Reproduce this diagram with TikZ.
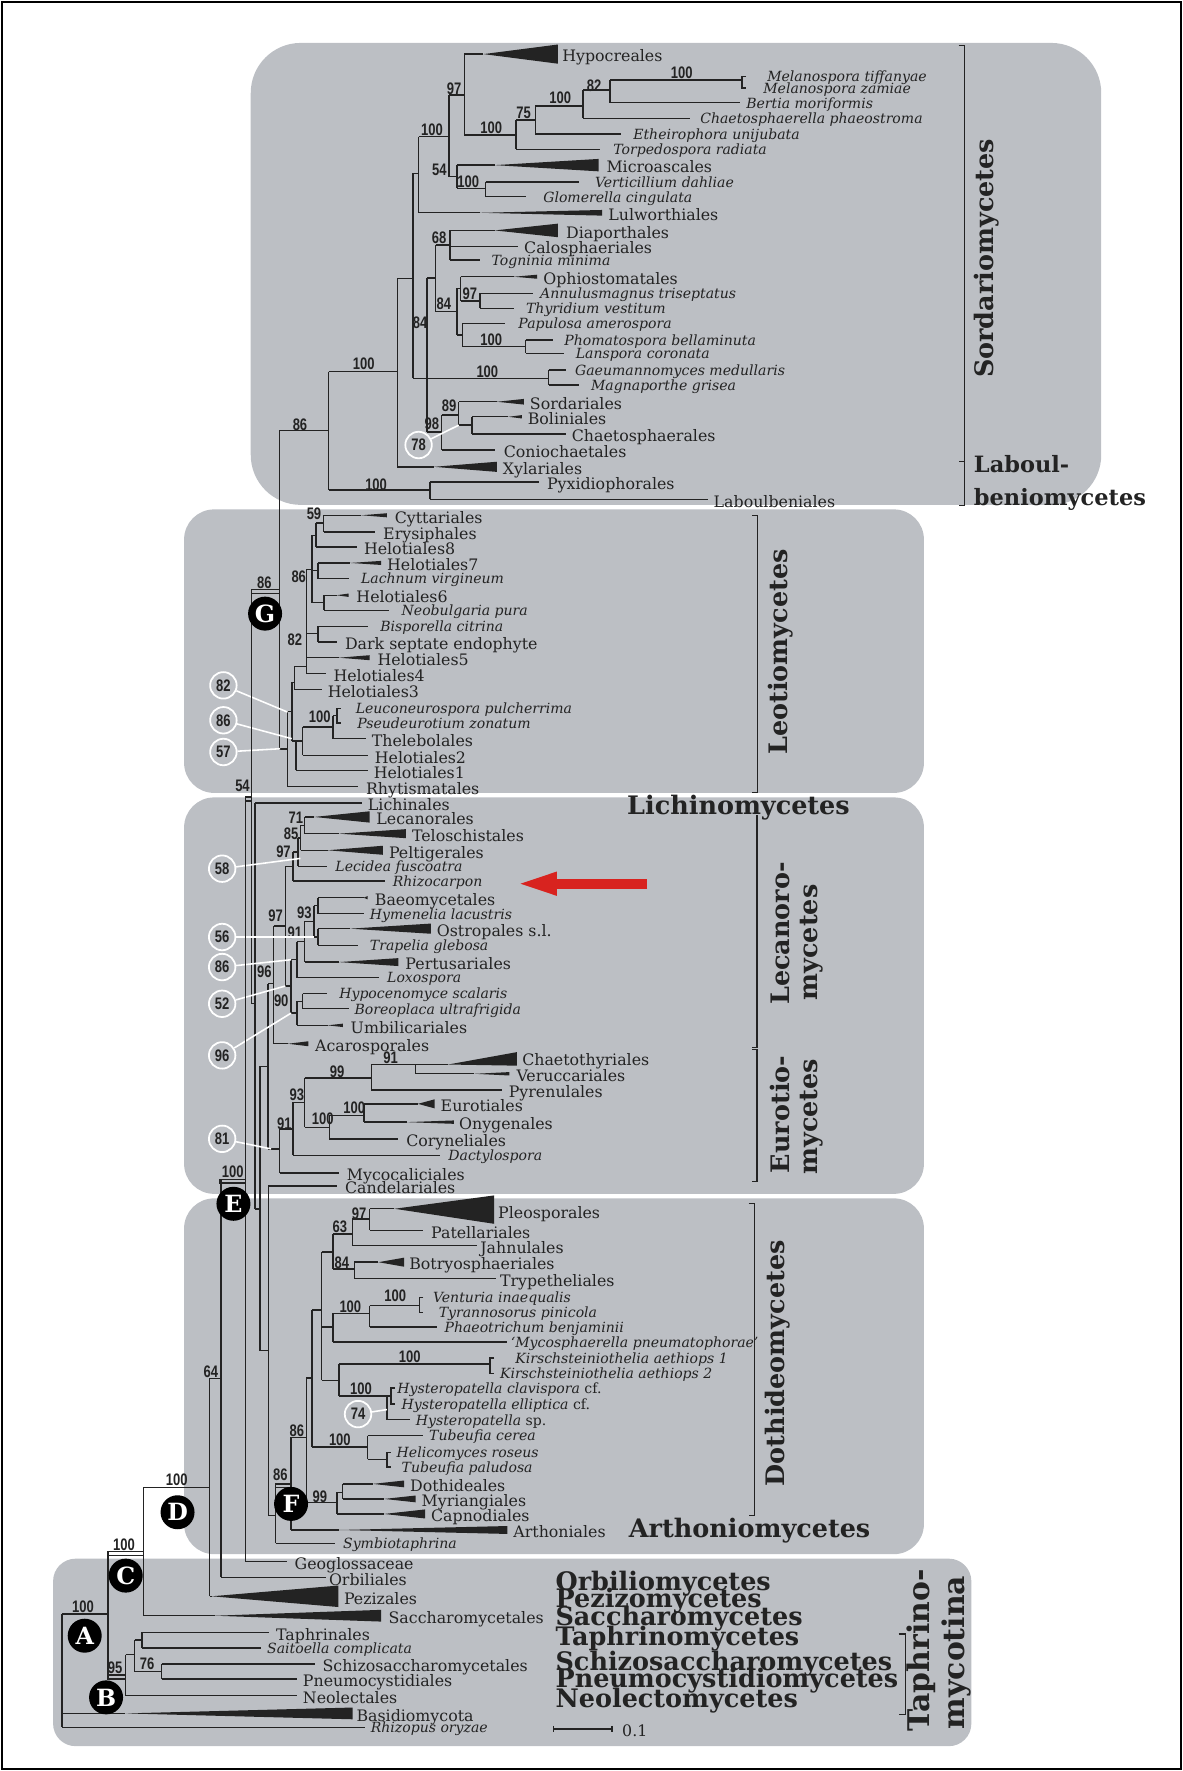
\documentclass[tikz,border=0pt]{standalone}
\usepackage{fontspec}
\setmainfont{DejaVu Serif}
\newfontfamily\numfont[FakeStretch=0.78]{Liberation Sans}
\usepackage{tikz}
\usetikzlibrary{arrows.meta}
\definecolor{panel}{HTML}{BCBFC4}
\definecolor{ink}{HTML}{232323}
\definecolor{alert}{HTML}{D8231F}
\tikzset{
  br/.style={draw=ink,line width=0.8pt},
  tri/.style={fill=ink},
  rlab/.style={anchor=base west,inner sep=0pt,yshift=-4.4pt,text=ink,
    font=\fontsize{9}{9}\selectfont},
  ilab/.style={anchor=base west,inner sep=0pt,yshift=-3pt,text=ink,
    font=\fontsize{8}{8}\selectfont\itshape},
  bsv/.style={inner sep=0pt,text=ink,font=\numfont\bfseries\fontsize{9.5}{9.5}\selectfont},
  ncirc/.style={circle,draw=white,line width=1pt,minimum size=0.53cm,inner sep=0pt,
    text=ink,font=\numfont\bfseries\fontsize{9.5}{9.5}\selectfont},
  wline/.style={draw=white,line width=0.9pt},
  lcirc/.style={circle,fill=black,text=white,minimum size=0.68cm,inner sep=0pt,
    font=\bfseries\fontsize{13.5}{13.5}\selectfont},
  grp/.style={inner sep=0pt,text=ink,font=\bfseries\fontsize{14.5}{14.5}\selectfont},
  grps/.style={grp,font=\bfseries\fontsize{12.8}{12.8}\selectfont},
  grpl/.style={grp,font=\bfseries\fontsize{17}{17}\selectfont},
  gbr/.style={draw=ink,line width=0.6pt},
  panelbox/.style={fill=panel},
  redarrow/.style={draw=alert,line width=5.8pt,-{Triangle[length=23.8pt 0,width=11.6pt 0]}}
}
% node: x, y-top, y-bottom, parent x, joining y
\newcommand\nod[5]{\draw[br] (#4,#5) -- (#1,#5) (#1,#2) -- (#1,#3);}
% leaf: x1, x2, y, label x, style, text
\newcommand\leaf[6]{\draw[br] (#1,#3) -- (#2,#3); \node[#5] at (#4,#3) {#6};}
% collapsed clade: x1, apex x, base x, y, half height, label x, text
\newcommand\tleaf[7]{\draw[br] (#1,#4) -- (#2,#4);
  \fill[tri] (#2,#4) -- (#3,#4-#5) -- (#3,#4+#5) -- cycle;
  \node[rlab] at (#6,#4) {#7};}
\newcommand\supp[3]{\node[bsv] at (#1,#2) {#3};}
\newcommand\pair[3]{\draw[br] (#1+3.5,#2) -- (#1,#2) -- (#1,#3) -- (#1+3.5,#3);}

\begin{document}
\begin{tikzpicture}[x=0.0226cm,y=-0.0226cm]
\useasboundingbox (0,0) rectangle (1047,1568);
\draw[line width=1.2pt] (1.5,1.5) rectangle (1045.5,1566.5);

\fill[panelbox,rounded corners=1.0cm] (222,38) rectangle (975,447);
\fill[panelbox,rounded corners=0.6cm] (163,451) rectangle (818,702);
\fill[panelbox,rounded corners=0.6cm] (163,706) rectangle (818,1057);
\fill[panelbox,rounded corners=0.6cm] (163,1061) rectangle (818,1376);
\fill[panelbox,rounded corners=0.45cm] (47,1380) rectangle (860,1546);

% Sordariomycetes and Laboulbeniomycetes
\nod{411.2}{47.9}{119.6}{397.7}{84.2}
\tleaf{411.2}{428}{494}{47.9}{8.5}{497.6}{Hypocreales}
\nod{457}{106.3}{132.3}{411.2}{119.6}
\nod{474}{94}{118.7}{457}{106.3}
\nod{516.3}{79.7}{104.8}{474}{94}
\nod{540}{71}{91}{516.3}{79.7}
\draw[br] (540,71) -- (657,71);
\pair{657}{67.5}{78}
\node[ilab] at (679,67.5) {Melanospora tiffanyae};
\node[ilab] at (675.5,78) {Melanospora zamiae};
\leaf{540}{655}{91}{660.4}{ilab}{Bertia moriformis}
\leaf{516.3}{611}{104.8}{619.7}{ilab}{Chaetosphaerella phaeostroma}
\leaf{474}{550}{118.7}{560.4}{ilab}{Etheirophora unijubata}
\leaf{457}{531.6}{132.3}{542.8}{ilab}{Torpedospora radiata}
\nod{397.7}{84.2}{156.5}{370.6}{121.1}
\nod{404.5}{146.2}{166.8}{397.7}{156.5}
\tleaf{404.5}{438}{530}{146.2}{5.5}{536.7}{Microascales}
\nod{429.9}{161}{174.2}{404.5}{166.8}
\leaf{429.9}{513}{161}{526.5}{ilab}{Verticillium dahliae}
\leaf{429.9}{465.5}{174.2}{480.7}{ilab}{Glomerella cingulata}
\nod{370.6}{121.1}{188.4}{365.5}{153.6}
\tleaf{370.6}{425}{533}{188.4}{2.5}{538.4}{Lulworthiales}
\nod{365.5}{153.6}{335}{351.9}{246.5}
\nod{378}{246}{382.3}{365.5}{335}
\nod{385.8}{217}{276}{378}{246}
\nod{398.3}{204}{230.3}{385.8}{217}
\tleaf{398.3}{438}{494}{204}{6}{501}{Diaporthales}
\leaf{398.3}{458.7}{218}{463.8}{rlab}{Calosphaeriales}
\leaf{398.3}{424.8}{230.3}{435}{ilab}{Togninia minima}
\nod{404.5}{255.3}{296.7}{385.8}{276}
\nod{407.8}{245}{266.4}{404.5}{255.3}
\tleaf{407.8}{455}{475.6}{245}{1.8}{480.7}{Ophiostomatales}
\nod{424.8}{259.8}{273}{407.8}{266.4}
\leaf{424.8}{472.2}{259.8}{478}{ilab}{Annulusmagnus triseptatus}
\leaf{424.8}{455.3}{273}{465.5}{ilab}{Thyridium vestitum}
\nod{409.5}{286.3}{307}{404.5}{296.7}
\leaf{409.5}{446.8}{286.3}{458.7}{ilab}{Papulosa amerospora}
\nod{465.5}{301}{312.9}{409.5}{307}
\leaf{465.5}{489.2}{301}{499.4}{ilab}{Phomatospora bellaminuta}
\leaf{465.5}{499.4}{312.9}{509.5}{ilab}{Lanspora coronata}
\nod{485.8}{327.7}{341}{378}{335}
\leaf{485.8}{501}{327.7}{508.9}{ilab}{Gaeumannomyces medullaris}
\leaf{485.8}{513}{341}{523}{ilab}{Magnaporthe grisea}
\nod{390.9}{367.5}{398.5}{378}{382.3}
\nod{406.2}{355.7}{376.4}{390.9}{367.5}
\tleaf{406.2}{440}{463.8}{355.7}{2.5}{468.9}{Sordariales}
\nod{418}{369}{384.4}{406.2}{376.4}
\tleaf{418}{450}{462}{369}{1.5}{467}{Boliniales}
\leaf{418}{501}{384.4}{506}{rlab}{Chaetosphaerales}
\leaf{390.9}{438.4}{398.5}{445.8}{rlab}{Coniochaetales}
\nod{351.9}{246.5}{413.3}{290.9}{329}
\tleaf{351.9}{384}{440}{413.3}{4.5}{445}{Xylariales}
\nod{290.9}{329}{434}{247.4}{380.9}
\nod{380.7}{426.6}{442.2}{290.9}{434}
\leaf{380.7}{477.3}{426.6}{484}{rlab}{Pyxidiophorales}
\leaf{380.7}{626.5}{442.2}{631.6}{rlab}{Laboulbeniales}
\supp{603.5}{64}{100} \supp{526}{75.5}{82} \supp{496}{86.5}{100}
\supp{463.5}{99.5}{75} \supp{402}{79}{97} \supp{435}{113}{100}
\supp{382.5}{115}{100} \supp{389}{150}{54} \supp{414.6}{161}{100}
\supp{388.7}{210.3}{68} \supp{416}{260.3}{97} \supp{393}{268.6}{84}
\supp{372}{286}{84} \supp{435}{301}{100} \supp{431.5}{329}{100}
\supp{397.7}{359.3}{89} \supp{382.4}{375.6}{98} \supp{322}{322.4}{100}
\supp{265.6}{375.7}{86} \supp{333}{429}{100}
\node[ncirc] (c78) at (370.6,394) {78};
\coordinate (t78) at (406.2,376.4);
\draw[wline] (c78) -- (t78);

% Leotiomycetes
\nod{247.4}{380.9}{663}{222.9}{522}
\nod{254.3}{630}{696.2}{247.4}{663}
\leaf{254.3}{317}{696.2}{323.8}{rlab}{Rhytismatales}
\nod{258.5}{604}{656}{254.3}{630}
\nod{261}{590}{610.6}{258.5}{604}
\leaf{261}{284.8}{610.6}{289.9}{rlab}{Helotiales3}
\nod{262}{656}{682.1}{258.5}{656}
\leaf{262}{325.5}{682.1}{330.6}{rlab}{Helotiales1}
\nod{267.9}{643.7}{668.8}{262}{656}
\leaf{267.9}{325.5}{668.8}{331.6}{rlab}{Helotiales2}
\nod{295}{633.7}{654}{267.9}{643.7}
\leaf{295}{323.8}{654}{328.9}{rlab}{Thelebolales}
\draw[br] (295,633.7) -- (298.4,633.7);
\pair{298.4}{627.4}{640.1}
\node[ilab] at (314.7,627.4) {Leuconeurospora pulcherrima};
\node[ilab] at (316,640.1) {Pseudeurotium zonatum};
\nod{271.3}{504}{596.4}{261}{590}
\tleaf{271.3}{300}{327.2}{582.3}{2.2}{334}{Helotiales5}
\leaf{271.3}{288.2}{596.4}{295}{rlab}{Helotiales4}
\nod{281.4}{554.5}{568.4}{271.3}{561}
\leaf{281.4}{325.5}{554.5}{336.4}{ilab}{Bisporella citrina}
\leaf{281.4}{298.4}{568.4}{305.2}{rlab}{Dark septate endophyte}
\nod{276.3}{474}{533.5}{271.3}{504}
\nod{279.7}{463}{484.2}{276.3}{474}
\leaf{279.7}{316}{484.2}{322}{rlab}{Helotiales8}
\nod{286.5}{456.2}{471}{279.7}{463}
\tleaf{286.5}{320}{342.5}{456.2}{1.8}{349.2}{Cyttariales}
\leaf{286.5}{332.3}{471}{339}{rlab}{Erysiphales}
\nod{281.4}{498.4}{512.3}{276.3}{505}
\tleaf{281.4}{310}{337.4}{498.4}{1.8}{342.5}{Helotiales7}
\leaf{281.4}{308.6}{512.3}{319.4}{ilab}{Lachnum virgineum}
\nod{287}{527}{540.3}{276.3}{533.5}
\tleaf{287}{298}{308.6}{527}{1.5}{315.3}{Helotiales6}
\leaf{287}{344.1}{540.3}{355.3}{ilab}{Neobulgaria pura}
\supp{278}{455.3}{59} \supp{264.5}{511}{86} \supp{261}{566}{82}
\supp{283}{634.9}{100} \supp{234}{516}{86} \supp{214.7}{696}{54}
\draw[br] (222.9,522) rectangle (247.4,525.6);
\draw[br] (217.1,705.6) rectangle (222.9,709);
\node[ncirc] (c82a) at (197.8,606.8) {82};
\node[ncirc] (c86a) at (197.8,637.7) {86};
\node[ncirc] (c57) at (197.8,665.8) {57};
\coordinate (t82a) at (254.5,630.4);
\coordinate (t86a) at (258.3,654);
\coordinate (t57) at (248,662.9);
\draw[wline] (c82a) -- (t82a);
\draw[wline] (c86a) -- (t86a);
\draw[wline] (c57) -- (t57);

% Lichinomycetes, Lecanoromycetes, Eurotiomycetes
\nod{222.9}{522}{888.7}{217.1}{705.6}
\nod{225.9}{710.9}{1070.3}{222.9}{888.7}
\leaf{225.9}{320.4}{710.9}{325.5}{rlab}{Lichinales}
\nod{230.3}{944}{1195.7}{225.9}{1070.3}
\nod{237.4}{871}{1017.2}{230.3}{944}
\nod{242.4}{820}{924.1}{237.4}{871}
\tleaf{242.4}{255}{273}{924.1}{2.2}{278.7}{Acarosporales}
\nod{252.6}{767.2}{873}{242.4}{820}
\nod{259.4}{754.4}{780}{252.6}{767.2}
\leaf{259.4}{340.8}{780}{347.5}{ilab}{Rhizocarpon}
\nod{264}{741.8}{767}{259.4}{754.4}
\leaf{264}{289.9}{767}{296.7}{ilab}{Lecidea fuscoatra}
\nod{266.2}{730.7}{752.8}{264}{741.8}
\tleaf{266.2}{290}{339}{752.8}{4}{344.1}{Peltigerales}
\nod{269.6}{723.3}{738.1}{266.2}{730.7}
\tleaf{269.6}{278}{327.2}{723.3}{5}{333}{Lecanorales}
\tleaf{269.6}{300}{359.4}{738.1}{4}{364.5}{Teloschistales}
\nod{257.7}{849.7}{897}{252.6}{873}
\nod{262.8}{833.7}{865.6}{257.7}{849.7}
\leaf{262.8}{335.7}{865.6}{342.5}{ilab}{Loxospora}
\nod{269.6}{815.7}{851.8}{262.8}{833.7}
\tleaf{269.6}{300}{352.6}{851.8}{3.5}{358.7}{Pertusariales}
\nod{278}{801.9}{829.6}{269.6}{815.7}
\nod{281.4}{794.8}{809}{278}{801.9}
\tleaf{281.4}{322}{325.5}{794.8}{1.5}{331.6}{Baeomycetales}
\leaf{281.4}{322}{809}{327.2}{ilab}{Hymenelia lacustris}
\nod{281.4}{822.2}{837}{278}{829.6}
\tleaf{281.4}{310}{381.4}{822.2}{4.5}{386.5}{Ostropales s.l.}
\leaf{281.4}{317}{837}{327.2}{ilab}{Trapelia glebosa}
\nod{262.8}{886.5}{907.8}{257.7}{897}
\nod{267.9}{879.8}{893.1}{262.8}{886.5}
\leaf{267.9}{289.9}{879.8}{300.1}{ilab}{Hypocenomyce scalaris}
\leaf{267.9}{308.6}{893.1}{313.6}{ilab}{Boreoplaca ultrafrigida}
\tleaf{262.8}{290}{303.5}{907.8}{1.5}{310.2}{Umbilicariales}
\supp{262}{724}{71} \supp{257.7}{738.1}{85} \supp{251}{754.3}{97}
\supp{269.5}{808.2}{93} \supp{244.1}{811.2}{97} \supp{261}{825.9}{91}
\supp{234}{860.6}{96} \supp{249}{885.8}{90}
\node[ncirc] (c58) at (196.7,769.1) {58};
\node[ncirc] (c56) at (196.7,829.6) {56};
\node[ncirc] (c86b) at (196.7,856.2) {86};
\node[ncirc] (c52) at (196.7,888.7) {52};
\node[ncirc] (c96) at (196.7,934.4) {96};
\coordinate (t58) at (266,760);
\coordinate (t56) at (278,829.6);
\coordinate (t86b) at (257.7,849.7);
\coordinate (t52) at (252.6,873);
\coordinate (t96) at (257.7,897);
\draw[wline] (c58) -- (t58);
\draw[wline] (c56) -- (t56);
\draw[wline] (c86b) -- (t86b);
\draw[wline] (c52) -- (t52);
\draw[wline] (c96) -- (t96);
\coordinate (arrowtail) at (573,782.4);
\coordinate (arrowtip) at (456,782.4);
\draw[redarrow] (arrowtail) -- (arrowtip);

\nod{247.5}{999.5}{1038.7}{237.4}{1017.2}
\leaf{247.5}{300.1}{1038.7}{306.9}{rlab}{Mycocaliciales}
\nod{259.4}{976}{1023}{247.5}{999.5}
\leaf{259.4}{389.9}{1023}{396.7}{ilab}{Dactylospora}
\nod{269.6}{954.3}{998}{259.4}{976}
\nod{328.9}{942.5}{964.9}{269.6}{954.3}
\draw[br] (328.9,942.5) -- (396.7,942.5) (367.9,942.5) -- (367.9,950.7);
\fill[tri] (396.7,942.5) -- (457.7,931.5) -- (457.7,943.5) -- cycle;
\node[rlab] at (462.1,936.5) {Chaetothyriales};
\tleaf{367.9}{420}{450.9}{950.7}{1.5}{457}{Veruccariales}
\leaf{328.9}{444.1}{964.9}{450.2}{rlab}{Pyrenulales}
\nod{291.6}{987.6}{1008.3}{269.6}{998}
\leaf{291.6}{352.6}{1008.3}{359.4}{rlab}{Coryneliales}
\nod{322.1}{977.3}{993.5}{291.6}{987.6}
\tleaf{322.1}{370}{384.8}{977.3}{4}{389.9}{Eurotiales}
\tleaf{322.1}{360}{401.8}{993.5}{1.5}{406.2}{Onygenales}
\supp{345.8}{936.7}{91} \supp{298.4}{948.5}{99} \supp{262.8}{969.2}{93}
\supp{313.7}{981}{100} \supp{285.7}{990.6}{100} \supp{251.8}{995}{91}
\node[ncirc] (c81) at (196.7,1008.3) {81};
\coordinate (t81) at (240,1017.2);
\draw[wline] (c81) -- (t81);

% Candelariales and Dothideomycetes
\nod{237.7}{1050.2}{1341.9}{230.3}{1195.7}
\leaf{237.7}{298.4}{1050.2}{305.2}{rlab}{Candelariales}
\nod{244.1}{1313.8}{1366.4}{237.7}{1341.9}
\leaf{244.1}{296.7}{1366.4}{303.5}{ilab}{Symbiotaphrina}
\nod{257.7}{1272.5}{1354.6}{244.1}{1313.8}
\tleaf{257.7}{300}{449.2}{1354.6}{3.5}{454.3}{Arthoniales}
\nod{271.3}{1220}{1330}{257.7}{1272.5}
\nod{298.4}{1321.2}{1340.4}{271.3}{1330}
\tleaf{298.4}{340}{376.3}{1340.4}{4}{381.4}{Capnodiales}
\nod{303.5}{1313.8}{1327.1}{298.4}{1321.2}
\tleaf{303.5}{330}{357.7}{1313.8}{3}{362.8}{Dothideales}
\tleaf{303.5}{340}{367.9}{1327.1}{3}{373}{Myriangiales}
\nod{276.3}{1160}{1281.3}{271.3}{1220}
\nod{325.5}{1271}{1292}{276.3}{1281.3}
\leaf{325.5}{374.7}{1271}{379.7}{ilab}{Tubeufia cerea}
\draw[br] (325.5,1292) -- (342.5,1292);
\pair{342.5}{1285.8}{1299}
\node[ilab] at (350.9,1285.8) {Helicomyces roseus};
\node[ilab] at (355.3,1299) {Tubeufia paludosa};
\nod{284.8}{1108.6}{1222}{276.3}{1160}
\nod{295}{1092.4}{1123.4}{284.8}{1108.6}
\nod{311.9}{1079.1}{1102.7}{295}{1092.4}
\nod{327.2}{1070.2}{1089.4}{311.9}{1079.1}
\draw[br] (327.2,1070.2) -- (349.2,1070.2);
\fill[tri] (349.2,1070.2) -- (437.4,1058.4) -- (437.4,1083.5) -- cycle;
\node[rlab] at (440.8,1072.3) {Pleosporales};
\leaf{327.2}{374.7}{1089.4}{381.4}{rlab}{Patellariales}
\leaf{311.9}{422.1}{1102.7}{425}{rlab}{Jahnulales}
\nod{313.6}{1117.5}{1132.2}{295}{1123.4}
\tleaf{313.6}{335}{357.7}{1117.5}{4}{362.1}{Botryosphaeriales}
\leaf{313.6}{439}{1132.2}{442.4}{rlab}{Trypetheliales}
\nod{295}{1162.7}{1188.3}{284.8}{1175}
\nod{327.2}{1155.9}{1175}{295}{1162.7}
\draw[br] (327.2,1155.9) -- (371.3,1155.9);
\pair{371.3}{1148.5}{1161.8}
\node[ilab] at (383.1,1148.5) {Venturia inaequalis};
\node[ilab] at (388.2,1161.8) {Tyrannosorus pinicola};
\leaf{327.2}{386.5}{1175}{393.3}{ilab}{Phaeotrichum benjaminii}
\leaf{295}{449.2}{1188.3}{452}{ilab}{‘Mycosphaerella pneumatophorae’}
\nod{300.1}{1207.5}{1236}{284.8}{1222}
\draw[br] (300.1,1207.5) -- (434,1207.5);
\pair{434}{1202.5}{1215.8}
\node[ilab] at (456,1202.5) {Kirschsteiniothelia aethiops 1};
\node[ilab] at (442.4,1215.8) {Kirschsteiniothelia aethiops 2};
\nod{342.5}{1236}{1257}{300.1}{1236}
\pair{346}{1229}{1243}
\draw[br] (342.5,1236) -- (346,1236);
\node[ilab] at (351.5,1229) {Hysteropatella clavispora {\upshape cf.}};
\node[ilab] at (355.3,1243) {Hysteropatella elliptica {\upshape cf.}};
\leaf{342.5}{362.8}{1257}{367.9}{ilab}{Hysteropatella {\upshape sp.}}
\supp{317.9}{1074.7}{97} \supp{301}{1085.8}{63} \supp{302.6}{1118.2}{84}
\supp{350}{1147}{100} \supp{310.2}{1157.3}{100} \supp{362.8}{1200.9}{100}
\supp{319.6}{1229.5}{100} \supp{300.9}{1274.5}{100} \supp{262.8}{1266.6}{86}
\supp{248.3}{1305.7}{86} \supp{283.1}{1324.9}{99}
\draw[br] (244.1,1313.8) rectangle (257.7,1316.8);
\node[ncirc] (c74) at (317,1252) {74};
\coordinate (t74) at (342.5,1248);
\draw[wline] (c74) -- (t74);

% backbone and basal lineages
\nod{217.1}{705.6}{1382.6}{195.8}{1044.3}
\leaf{217.1}{253.7}{1382.6}{260.6}{rlab}{Geoglossaceae}
\nod{195.8}{1044.3}{1396.5}{185.7}{1220.4}
\leaf{195.8}{288.5}{1396.5}{291}{rlab}{Orbiliales}
\nod{185.7}{1220.4}{1413.3}{127.1}{1316.8}
\tleaf{185.7}{187.5}{299.6}{1413.3}{9.5}{304.3}{Pezizales}
\nod{127.1}{1316.8}{1430.5}{95.5}{1373.6}
\tleaf{127.1}{190}{337.5}{1430.5}{5.2}{343.8}{Saccharomycetales}
\nod{95.5}{1373.6}{1483}{55}{1429}
\nod{111.3}{1465}{1501.3}{95.5}{1483}
\leaf{111.3}{263.2}{1501.3}{267.9}{rlab}{Neolectales}
\nod{119.2}{1452.1}{1479.9}{111.3}{1465}
\nod{125.6}{1445.2}{1459.1}{119.2}{1452.1}
\leaf{125.6}{237.9}{1445.2}{244.2}{rlab}{Taphrinales}
\leaf{125.6}{231.5}{1459.1}{236.3}{ilab}{Saitoella complicata}
\nod{143}{1473.3}{1486.6}{119.2}{1479.9}
\leaf{143}{279}{1473.3}{285.3}{rlab}{Schizosaccharomycetales}
\leaf{143}{263.2}{1486.6}{267.9}{rlab}{Pneumocystidiales}
\draw[br] (55,1429) -- (55,1529.4);
\tleaf{55}{111}{312.2}{1517}{5.2}{315.4}{Basidiomycota}
\leaf{55}{323.3}{1529.4}{328}{ilab}{Rhizopus oryzae}
\supp{206}{1037}{100} \supp{186.7}{1214.2}{64} \supp{156.5}{1310}{100}
\supp{109.7}{1367.8}{100} \supp{73.4}{1422.3}{100} \supp{101.9}{1476.2}{95}
\supp{130.3}{1473.3}{76}
\draw[br] (194.9,1044.3) rectangle (217.1,1047.5);
\draw[br] (95.5,1373.6) rectangle (127.1,1377);
\draw[br] (95.5,1483) rectangle (111.3,1486.5);

\node[lcirc] (nA) at (75,1448.2) {A};
\node[lcirc] (nB) at (93.9,1502.8) {B};
\node[lcirc] (nC) at (111.3,1395) {C};
\node[lcirc] (nD) at (157.2,1338.9) {D};
\node[lcirc] (nE) at (206.7,1065.8) {E};
\node[lcirc] (nF) at (257.7,1331.5) {F};
\node[lcirc] (nG) at (234.7,543.3) {G};

% class labels
\draw[gbr] (848.8,39.9) -- (853.8,39.9) -- (853.8,447.3) -- (848.8,447.3);
\draw[gbr] (849.5,409) -- (853.8,409);
\node[grp,rotate=90] at (873.9,228.8) {Sordariomycetes};
\node[grps,anchor=west] at (862,410.5) {Laboul-};
\node[grps,anchor=west] at (862,442) {beniomycetes};
\draw[gbr] (665.8,456.7) -- (670.8,456.7) -- (670.8,701.9) -- (665.8,701.9);
\node[grp,rotate=90] at (690.8,577.3) {Leotiomycetes};
\node[grp,anchor=west] at (555,714.9) {Lichinomycetes};
\draw[gbr] (670.2,722) -- (670.2,927.3) -- (665.8,927.3);
\draw[gbr] (665.8,929.3) -- (670.2,929.3) -- (670.2,1045.9) -- (665.8,1045.9);
\node[grp,rotate=90] at (690.8,826.5) {Lecanoro-};
\node[grp,rotate=90] at (718.9,834.4) {mycetes};
\node[grp,rotate=90] at (690.8,986.6) {Eurotio-};
\node[grp,rotate=90] at (718.9,988.6) {mycetes};
\draw[gbr] (662.9,1065.8) -- (667.9,1065.8) -- (667.9,1341.9) -- (662.9,1341.9);
\node[grp,rotate=90] at (688.5,1207) {Dothideomycetes};
\node[grp,anchor=west] at (556.5,1355.2) {Arthoniomycetes};
\node[grp,anchor=west] at (491.6,1402.4) {Orbiliomycetes};
\node[grp,anchor=west] at (491.6,1417.2) {Pezizomycetes};
\node[grp,anchor=west] at (491.6,1433.4) {Saccharomycetes};
\node[grp,anchor=west] at (491.6,1451.1) {Taphrinomycetes};
\node[grp,anchor=west] at (491.6,1473.3) {Schizosaccharomycetes};
\node[grp,anchor=west] at (491.6,1488) {Pneumocystidiomycetes};
\node[grp,anchor=west] at (491.6,1505.8) {Neolectomycetes};
\draw[gbr] (795.7,1446.7) -- (801.6,1446.7) -- (801.6,1517.6) -- (795.7,1517.6);
\node[grpl,rotate=90] at (815.5,1461.5) {Taphrino-};
\node[grpl,rotate=90] at (846.5,1463) {mycotina};
\draw[br] (490.1,1530.9) -- (541.8,1530.9) (490.1,1528) -- (490.1,1533.8) (541.8,1528) -- (541.8,1533.8);
\node[rlab] at (550.6,1530.9) {0.1};
\end{tikzpicture}
\end{document}
